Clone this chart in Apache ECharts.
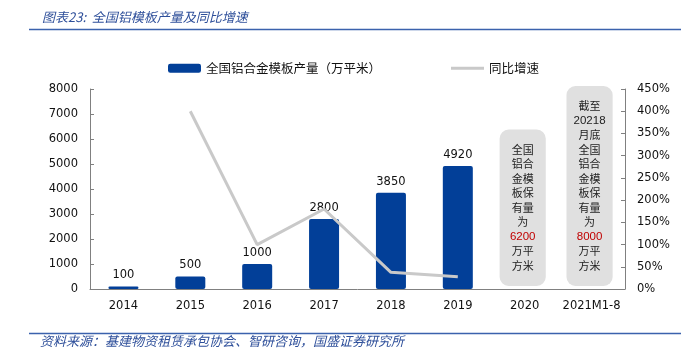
<!DOCTYPE html>
<html><head><meta charset="utf-8">
<script src="https://cdn.jsdelivr.net/npm/echarts@6/dist/echarts.min.js"></script>
<style>html,body{margin:0;padding:0;background:#fff}#c{width:681px;height:362px}</style>
</head><body><div id="c"></div>
<script>
var categories = ['2014','2015','2016','2017','2018','2019','2020','2021M1-8'];
var output = [100, 500, 1000, 2800, 3850, 4920, null, null];
var yoy = [null, 400, 100, 180, 37.5, 27.8, null, null];
var notes = [
  {cat: 6, lines: ['全国','铝合','金模','板保','有量','为','{r|6200}','万平','方米']},
  {cat: 7, lines: ['截至','{n|20218}','月底','全国','铝合','金模','板保','有量','为','{r|8000}','万平','方米']}
];
var seriesNames = ['全国铝合金模板产量（万平米）', '同比增速'];
var titleText = '图表23:  全国铝模板产量及同比增速';
var sourceText = '资料来源：基建物资租赁承包协会、智研咨询，国盛证券研究所';

var chart = echarts.init(document.getElementById('c'));
var numFont = 'DejaVu Sans';
var cjk = '"Noto Sans CJK SC"';
var blue = '#2e4f9a';
var LH = 14.5;
chart.setOption({
  animation: false,
  title: {text: titleText, left: 37, top: 6, textStyle: {fontSize: 13, fontStyle: 'italic', fontWeight: 'normal', color: blue, fontFamily: cjk}},
  legend: [
    {data: [seriesNames[0]], left: 163, top: 57, itemWidth: 33, itemHeight: 9, itemGap: 4,
     textStyle: {fontSize: 12.5, color: '#111', fontFamily: cjk}},
    {data: [{name: seriesNames[1], icon: 'rect'}], left: 446, top: 57, itemWidth: 33, itemHeight: 3,
     textStyle: {fontSize: 12.5, color: '#111', fontFamily: cjk}}
  ],
  grid: {left: 90, right: 56, top: 89, bottom: 73},
  xAxis: {type: 'category', data: categories,
    axisLine: {lineStyle: {color: '#808080'}},
    axisTick: {inside: true, length: 5, lineStyle: {color: '#808080'}},
    axisLabel: {interval: 0, fontSize: 11.5, color: '#111', fontFamily: numFont, margin: 11}},
  yAxis: [
    {type: 'value', min: 0, max: 8000, interval: 1000, splitLine: {show: false},
     axisLine: {show: true, lineStyle: {color: '#808080'}},
     axisTick: {show: true, inside: true, length: 4, lineStyle: {color: '#808080'}},
     axisLabel: {fontSize: 11.5, color: '#111', fontFamily: numFont, margin: 12, formatter: function (v) { return String(v); }}},
    {type: 'value', min: 0, max: 450, interval: 50, splitLine: {show: false},
     axisLine: {show: true, lineStyle: {color: '#808080'}},
     axisTick: {show: true, inside: true, length: 4, lineStyle: {color: '#808080'}},
     axisLabel: {fontSize: 11.5, color: '#111', fontFamily: numFont, margin: 12, formatter: '{value}%'}}
  ],
  series: [
    {name: seriesNames[0], type: 'bar', data: output, barWidth: 30,
     itemStyle: {color: '#023f98', borderRadius: 2},
     label: {show: true, position: 'top', distance: 5, fontSize: 11.5, color: '#111', fontFamily: numFont}},
    {name: seriesNames[1], type: 'line', yAxisIndex: 1, data: yoy, showSymbol: false, symbol: 'none',
     lineStyle: {color: '#c9c9c9', width: 3}, itemStyle: {color: '#c9c9c9'}},
    {type: 'custom', clip: false, silent: true, z: 1,
     data: notes.map(function (n) { return [n.cat, n.lines.length]; }),
     renderItem: function (params, api) {
       var idx = api.value(0);
       var n = api.value(1);
       var base = api.coord([idx, 0]);
       var w = api.size([1, 0])[0] * 0.69;
       var h = n * LH + 26;
       var bottom = base[1] - 3;
       var top = bottom - h;
       var note = notes[params.dataIndex];
       return {type: 'group', children: [
         {type: 'rect', shape: {x: base[0] - 2 - w / 2, y: top, width: w, height: h, r: 9},
          style: {fill: '#e0e0e0'}},
         {type: 'text', x: base[0] - 2, y: top + h / 2,
          style: {text: note.lines.join('\n'), align: 'center', verticalAlign: 'middle',
            fontSize: 11, lineHeight: LH, fill: '#222', fontFamily: cjk,
            rich: {r: {fill: '#c00000', fontSize: 11.5, lineHeight: LH, fontFamily: 'Liberation Sans'},
                   n: {fill: '#222', fontSize: 11.5, lineHeight: LH, fontFamily: 'Liberation Sans'}}}}
       ]};
     }}
  ],
  graphic: [
    {type: 'line', shape: {x1: 29, y1: 29.5, x2: 681, y2: 29.5}, style: {stroke: '#3b62ad', lineWidth: 1.5}},
    {type: 'line', shape: {x1: 29, y1: 333.5, x2: 681, y2: 333.5}, style: {stroke: '#3b62ad', lineWidth: 1.5}},
    {type: 'text', left: 40, top: 335, style: {text: sourceText, fontSize: 13, fontStyle: 'italic', fill: blue, fontFamily: cjk}}
  ]
});
</script></body></html>
